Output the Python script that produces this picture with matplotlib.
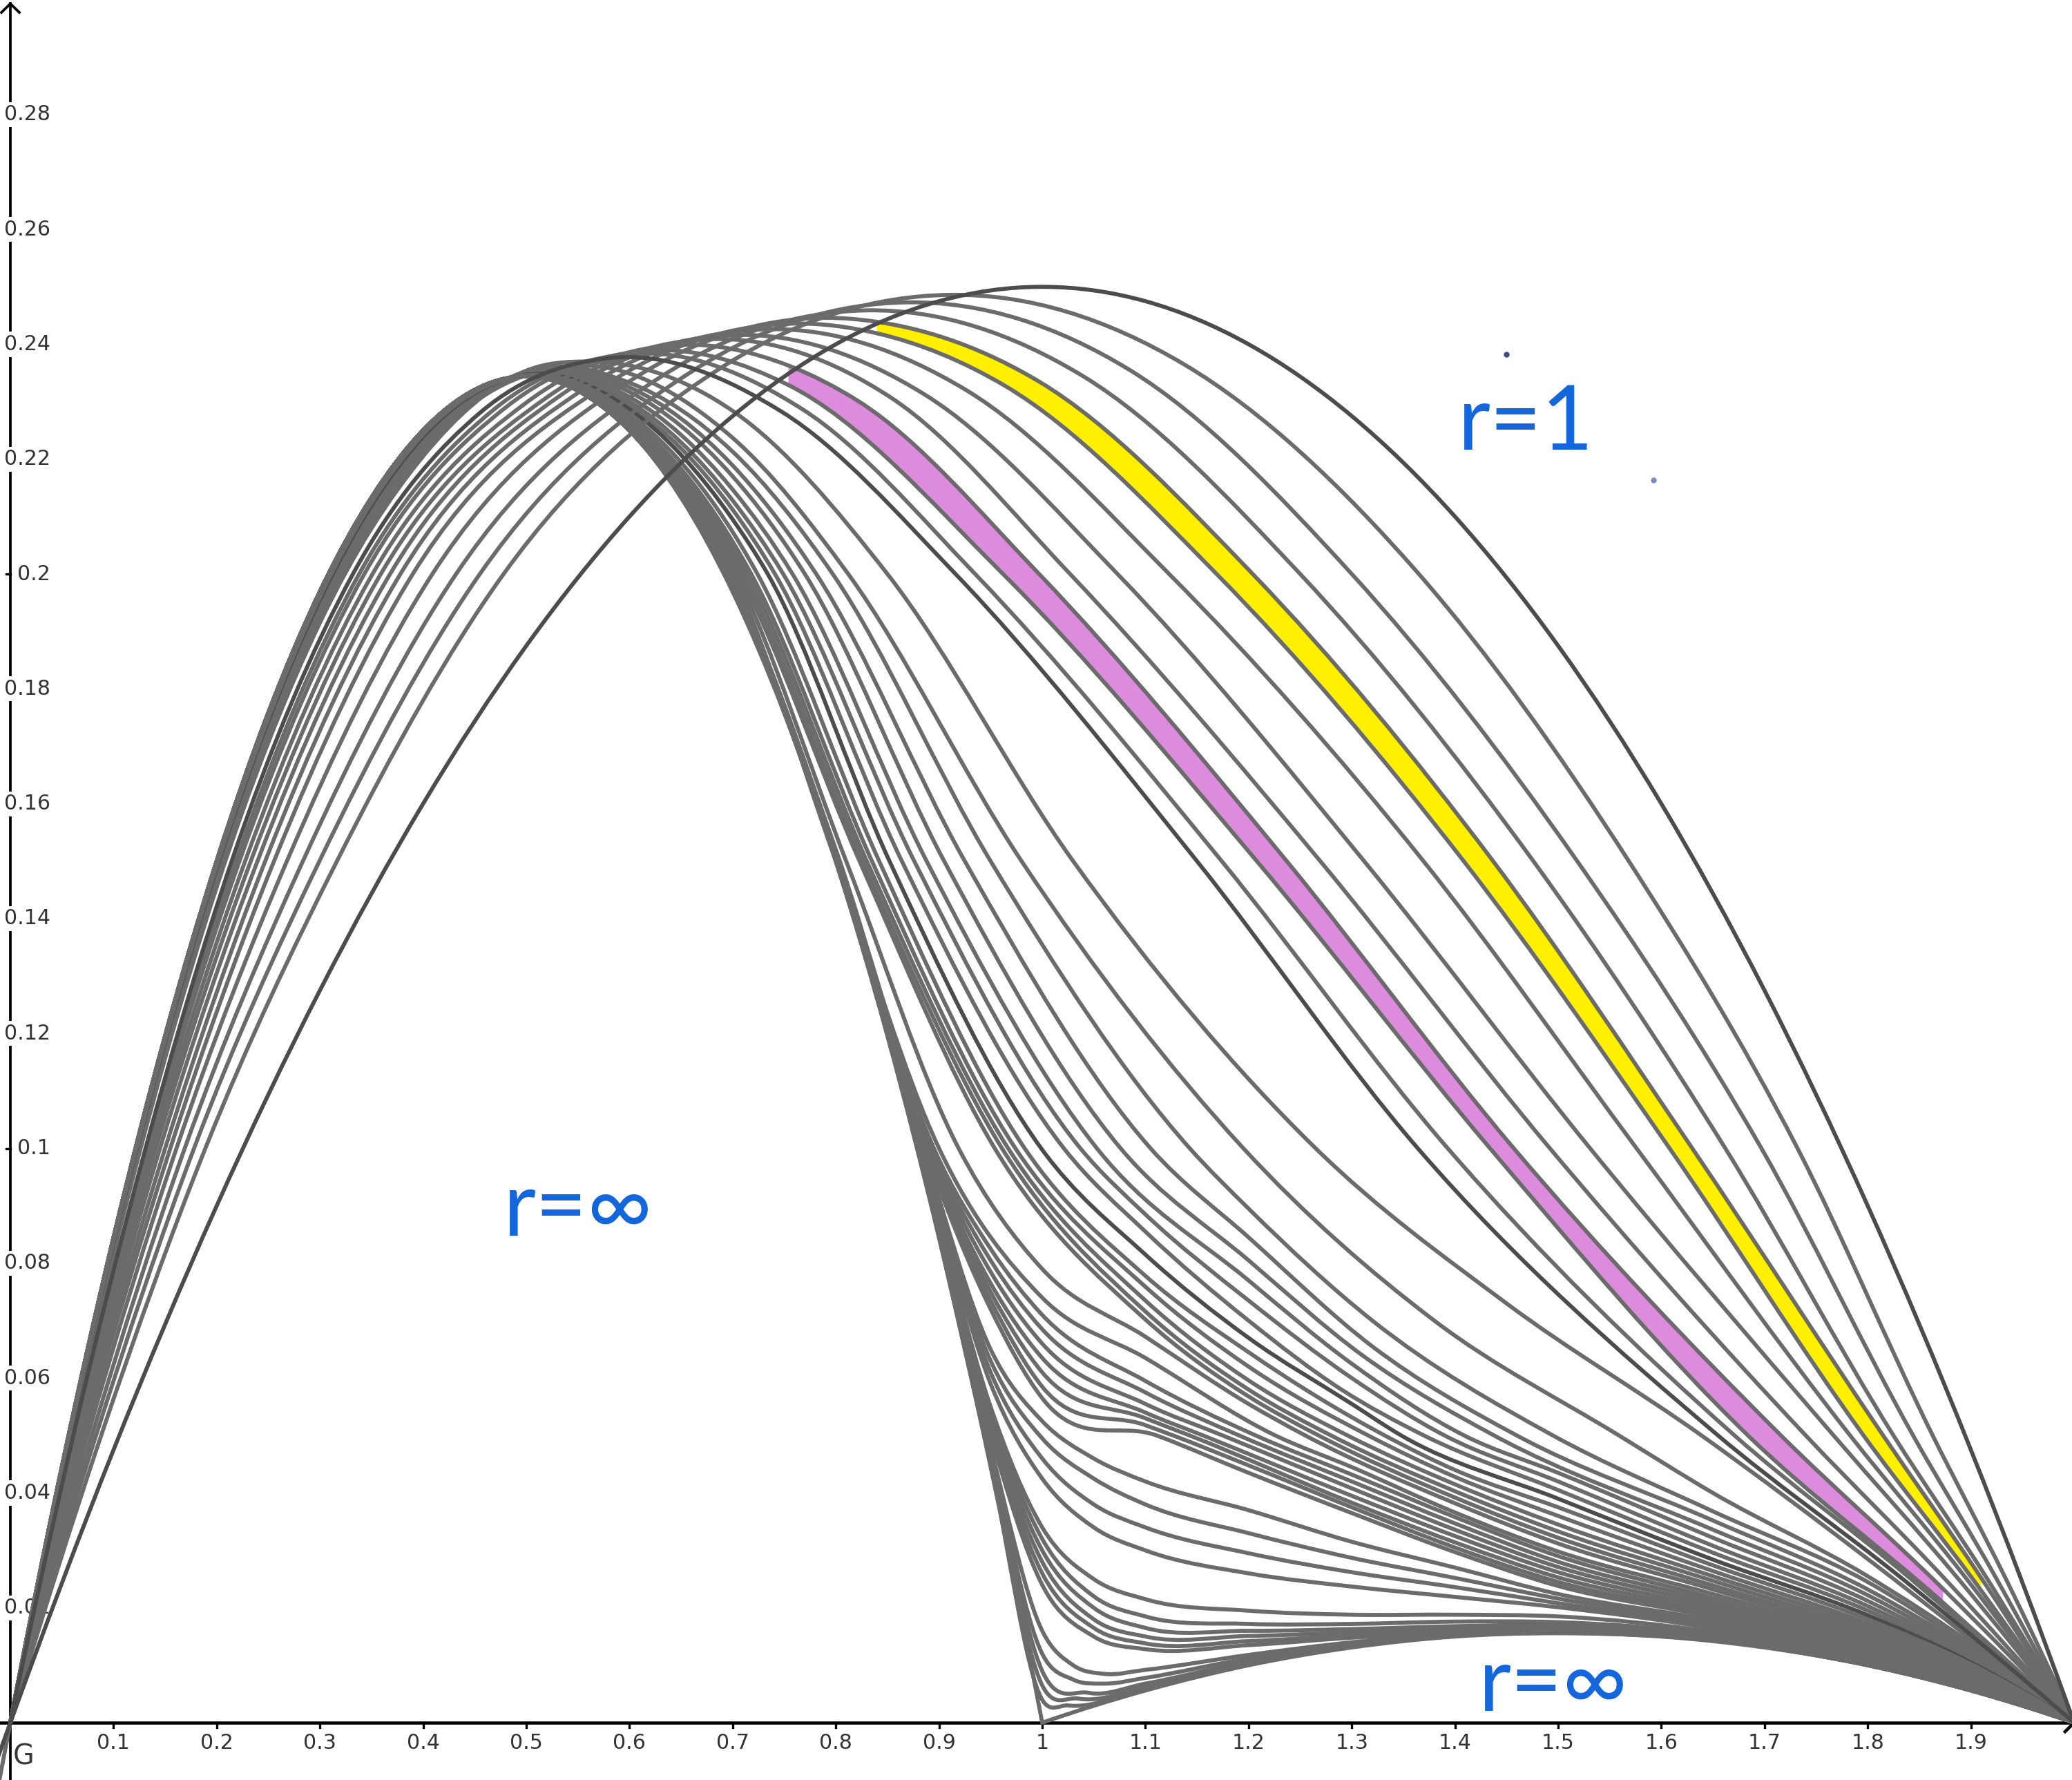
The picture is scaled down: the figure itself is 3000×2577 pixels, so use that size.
import numpy as np
import matplotlib
matplotlib.use("Agg")
import matplotlib.pyplot as plt
from matplotlib.path import Path
from matplotlib.patches import PathPatch

# ---------------- values ----------------
# each curve is a list of (x, y) points read along it

R1_CURVE = [(-0.012, -0.006), (0, 0), (0.1, 0.0475), (0.2, 0.09), (0.3, 0.1275), (0.4, 0.16), (0.5, 0.1875),
            (0.6, 0.21), (0.7, 0.2275), (0.8, 0.24), (0.9, 0.2475), (1.0, 0.25), (1.1, 0.2475), (1.2, 0.24),
            (1.3, 0.2275), (1.4, 0.21), (1.5, 0.1875), (1.6, 0.16), (1.7, 0.1275), (1.8, 0.09), (1.9, 0.0475), (2, 0)]

INF_LEFT = [(-0.012, -0.0113), (0, 0), (0.1, 0.0844), (0.2, 0.15), (0.3, 0.1969), (0.4, 0.225), (0.5, 0.2344),
            (0.6, 0.225), (0.7, 0.1969), (0.8, 0.15), (0.9, 0.0844), (1.0, 0)]
INF_RIGHT = [(1.0, 0), (1.1, 0.0056), (1.2, 0.01), (1.3, 0.0131), (1.4, 0.015), (1.5, 0.0156), (1.6, 0.015),
             (1.7, 0.0131), (1.8, 0.01), (1.9, 0.0056), (2, 0)]

# curves next to r=1, peaks moving left
OUTER_FAN = [
    [(0, 0), (0.088, 0.05), (0.189, 0.1), (0.3165, 0.15), (0.478, 0.2), (0.694, 0.2365), (0.91, 0.2486), (1.1375, 0.2365), (1.365, 0.2), (1.5685, 0.15), (1.732, 0.1), (1.863, 0.05), (1.934, 0.025), (2, 0)],
    [(0, 0), (0.083, 0.05), (0.178, 0.1), (0.2995, 0.15), (0.455, 0.2), (0.6625, 0.2355), (0.87, 0.2473), (1.085, 0.2355), (1.3, 0.2), (1.5185, 0.15), (1.697, 0.1), (1.844, 0.05), (1.925, 0.025), (2, 0)],
    [(0, 0), (0.079, 0.05), (0.169, 0.1), (0.2835, 0.15), (0.432, 0.2), (0.631, 0.2344), (0.83, 0.2459), (1.04, 0.2344), (1.25, 0.2), (1.476, 0.15), (1.662, 0.1), (1.825, 0.05), (1.916, 0.025), (2, 0)],
    [(0, 0), (0.075, 0.05), (0.161, 0.1), (0.268, 0.15), (0.409, 0.2), (0.5995, 0.2335), (0.79, 0.2446), (0.84, 0.2439), (0.997, 0.2335), (1.204, 0.2), (1.437, 0.15), (1.63, 0.1), (1.815, 0.05), (1.91, 0.0252), (2, 0)],
    [(0, 0), (0.072, 0.05), (0.155, 0.1), (0.2555, 0.15), (0.39, 0.2), (0.575, 0.2327), (0.76, 0.2436), (0.84, 0.2419), (0.9645, 0.2327), (1.169, 0.2), (1.4085, 0.15), (1.608, 0.1), (1.796, 0.05), (1.91, 0.023), (2, 0)],
    [(0, 0), (0.07, 0.05), (0.15, 0.1), (0.247, 0.15), (0.378, 0.2), (0.554, 0.232), (0.73, 0.2426), (0.9265, 0.232), (1.123, 0.2), (1.3695, 0.15), (1.576, 0.1), (1.783, 0.05), (1.896, 0.025), (2, 0)],
    [(0, 0), (0.068, 0.05), (0.145, 0.1), (0.2395, 0.15), (0.368, 0.2), (0.534, 0.2312), (0.7, 0.2416), (0.8865, 0.2312), (1.073, 0.2), (1.312, 0.15), (1.531, 0.1), (1.767, 0.05), (1.888, 0.025), (2, 0)],
    [(0, 0), (0.066, 0.05), (0.141, 0.1), (0.233, 0.15), (0.359, 0.2), (0.5195, 0.2307), (0.68, 0.2409), (0.8535, 0.2307), (1.027, 0.2), (1.2695, 0.15), (1.492, 0.1), (1.74, 0.05), (1.875, 0.025), (2, 0)],
    [(0, 0), (0.064, 0.05), (0.138, 0.1), (0.2275, 0.15), (0.351, 0.2), (0.5005, 0.2299), (0.65, 0.2399), (0.754, 0.2363), (0.8235, 0.2299), (0.997, 0.2), (1.237, 0.15), (1.457, 0.1), (1.716, 0.05), (1.873, 0.0233), (2, 0)],
    [(0, 0), (0.063, 0.05), (0.135, 0.1), (0.222, 0.15), (0.343, 0.2), (0.4815, 0.2292), (0.62, 0.2389), (0.754, 0.2329), (0.962, 0.2), (1.208, 0.15), (1.434, 0.1), (1.684, 0.05), (1.873, 0.0209), (2, 0)],
    [(0, 0), (0.062, 0.05), (0.133, 0.1), (0.2185, 0.15), (0.338, 0.2), (0.469, 0.2287), (0.6, 0.2383), (0.7675, 0.2287), (0.935, 0.2), (1.174, 0.15), (1.393, 0.1), (1.671, 0.05), (1.842, 0.025), (2, 0)],
    [(0, 0), (0.061, 0.05), (0.131, 0.1), (0.2145, 0.15), (0.332, 0.2), (0.456, 0.2282), (0.58, 0.2376), (0.748, 0.2282), (0.916, 0.2), (1.15, 0.15), (1.364, 0.1), (1.655, 0.05), (1.834, 0.025), (2, 0)],
]

# curves peaking near x=0.5 that bend into a long tail
MIDDLE_FAN = [
    [(0, 0), (0.1, 0.0815), (0.2, 0.1455), (0.3, 0.1915), (0.4, 0.2205), (0.5, 0.2354), (0.56, 0.237), (0.7, 0.2284), (0.85, 0.2), (1.03, 0.15), (1.265, 0.1), (1.45, 0.073), (1.639, 0.05), (1.8, 0.0285), (1.9, 0.0145), (2, 0)],
    [(0, 0), (0.1, 0.082), (0.2, 0.1463), (0.3, 0.1925), (0.4, 0.2215), (0.54, 0.2362), (0.7, 0.2237), (0.812, 0.2), (0.98, 0.15), (1.195, 0.1), (1.38, 0.07), (1.559, 0.05), (1.65, 0.04), (1.8, 0.0255), (1.9, 0.0138), (2, 0)],
    [(0, 0), (0.1, 0.0822), (0.2, 0.1466), (0.3, 0.1929), (0.4, 0.2218), (0.5, 0.2353), (0.6, 0.2333), (0.7, 0.2213), (0.797, 0.2), (0.95, 0.15), (1.143, 0.1), (1.2, 0.0895), (1.32, 0.07), (1.495, 0.05), (1.65, 0.0368), (1.8, 0.0245), (1.9, 0.0131), (2, 0)],
    [(0, 0), (0.1, 0.0825), (0.2, 0.147), (0.3, 0.1933), (0.4, 0.2222), (0.5, 0.2351), (0.6, 0.2325), (0.7, 0.2189), (0.781, 0.2), (0.925, 0.15), (1.105, 0.1), (1.2, 0.0845), (1.32, 0.0655), (1.46, 0.05), (1.65, 0.0352), (1.8, 0.0232), (1.9, 0.0126), (2, 0)],
    [(0, 0), (0.1, 0.0827), (0.2, 0.1473), (0.3, 0.1937), (0.4, 0.2225), (0.5, 0.2351), (0.6, 0.2317), (0.7, 0.217), (0.77, 0.2), (0.905, 0.15), (1.076, 0.1), (1.2, 0.0805), (1.31, 0.064), (1.438, 0.05), (1.65, 0.0336), (1.8, 0.0222), (1.9, 0.0121), (2, 0)],
    [(0, 0), (0.1, 0.0829), (0.2, 0.1477), (0.3, 0.1941), (0.4, 0.2229), (0.5, 0.235), (0.6, 0.2308), (0.7, 0.2147), (0.758, 0.2), (0.888, 0.15), (1.053, 0.1), (1.2, 0.077), (1.3, 0.0625), (1.409, 0.05), (1.5, 0.0435), (1.65, 0.0322), (1.8, 0.0212), (1.9, 0.0117), (2, 0)],
    [(0, 0), (0.1, 0.0831), (0.2, 0.1481), (0.3, 0.1945), (0.4, 0.2232), (0.5, 0.2349), (0.6, 0.23), (0.7, 0.2128), (0.749, 0.2), (0.876, 0.15), (1.037, 0.1), (1.1, 0.0885), (1.2, 0.0735), (1.3, 0.06), (1.39, 0.05), (1.5, 0.042), (1.65, 0.0308), (1.8, 0.0203), (1.9, 0.0113), (2, 0)],
    [(0, 0), (0.1, 0.0834), (0.2, 0.1485), (0.3, 0.195), (0.4, 0.2235), (0.5, 0.2348), (0.6, 0.2293), (0.7, 0.2112), (0.741, 0.2), (0.864, 0.15), (1.021, 0.1), (1.1, 0.0855), (1.2, 0.07), (1.29, 0.058), (1.37, 0.05), (1.5, 0.0405), (1.65, 0.0296), (1.8, 0.0195), (1.9, 0.0109), (2, 0)],
    [(0, 0), (0.1, 0.0836), (0.2, 0.1488), (0.3, 0.1955), (0.4, 0.2239), (0.5, 0.2347), (0.6, 0.2287), (0.7, 0.2095), (0.734, 0.2), (0.852, 0.15), (0.999, 0.1), (1.1, 0.0815), (1.2, 0.067), (1.3, 0.0555), (1.348, 0.05), (1.5, 0.039), (1.65, 0.0284), (1.8, 0.0187), (1.9, 0.0105), (2, 0)],
    [(0, 0), (0.1, 0.0839), (0.2, 0.1492), (0.3, 0.196), (0.4, 0.2243), (0.5, 0.2346), (0.6, 0.2279), (0.724, 0.2), (0.842, 0.15), (0.983, 0.1), (1.1, 0.0778), (1.2, 0.0645), (1.332, 0.05), (1.4, 0.044), (1.5, 0.0375), (1.65, 0.0274), (1.8, 0.018), (1.9, 0.0102), (2, 0)],
    [(0, 0), (0.1, 0.084), (0.2, 0.1494), (0.3, 0.1962), (0.4, 0.2244), (0.5, 0.2345), (0.6, 0.2272), (0.718, 0.2), (0.835, 0.15), (0.974, 0.1), (1.1, 0.0759), (1.2, 0.062), (1.316, 0.05), (1.4, 0.0428), (1.5, 0.036), (1.65, 0.0264), (1.8, 0.0173), (1.9, 0.0099), (2, 0)],
    [(0, 0), (0.1, 0.0841), (0.2, 0.1496), (0.3, 0.1964), (0.4, 0.2246), (0.5, 0.2345), (0.6, 0.2268), (0.714, 0.2), (0.83, 0.15), (0.967, 0.1), (1.1, 0.0735), (1.2, 0.0596), (1.296, 0.05), (1.4, 0.0415), (1.5, 0.0345), (1.65, 0.0255), (1.8, 0.0167), (1.9, 0.0096), (2, 0)],
    [(0, 0), (0.1, 0.0842), (0.2, 0.1498), (0.3, 0.1966), (0.4, 0.2248), (0.5, 0.2345), (0.6, 0.2265), (0.71, 0.2), (0.826, 0.15), (0.961, 0.1), (1.1, 0.0716), (1.2, 0.058), (1.28, 0.05), (1.4, 0.0403), (1.5, 0.0333), (1.65, 0.0247), (1.8, 0.0161), (1.9, 0.0093), (2, 0)],
    [(0, 0), (0.1, 0.0843), (0.2, 0.1499), (0.3, 0.1968), (0.4, 0.2249), (0.5, 0.2345), (0.6, 0.2262), (0.706, 0.2), (0.823, 0.15), (0.954, 0.1), (1.1, 0.0702), (1.2, 0.0568), (1.268, 0.05), (1.4, 0.0392), (1.5, 0.0322), (1.65, 0.0239), (1.8, 0.0156), (1.9, 0.0091), (2, 0)],
    [(0, 0), (0.1, 0.0844), (0.2, 0.15), (0.3, 0.1969), (0.4, 0.225), (0.5, 0.2345), (0.6, 0.2259), (0.703, 0.2), (0.81, 0.15), (0.919, 0.1), (1.0, 0.079), (1.1, 0.0672), (1.2, 0.0555), (1.255, 0.05), (1.4, 0.0382), (1.5, 0.0312), (1.65, 0.0232), (1.8, 0.0151), (1.9, 0.0088), (2, 0)],
    [(0, 0), (0.1, 0.0844), (0.2, 0.15), (0.3, 0.1969), (0.4, 0.225), (0.5, 0.2345), (0.6, 0.2256), (0.7, 0.2), (0.8, 0.15), (0.9, 0.1), (1.0, 0.074), (1.1, 0.0635), (1.226, 0.05), (1.3, 0.0445), (1.4, 0.0366), (1.5, 0.0298), (1.65, 0.0224), (1.8, 0.0146), (1.9, 0.0086), (2, 0)],
]

# curves that follow r=inf up to the peak, then knee and shoulder near x=1
CLUSTER_LEFT = [(0, 0), (0.1, 0.0844), (0.2, 0.15), (0.3, 0.1969), (0.4, 0.225), (0.5, 0.2344), (0.6, 0.225)]
SHOULDER_FAN = [
    [(0.697, 0.2), (0.8, 0.152), (0.895, 0.1), (0.95, 0.0825), (1.0, 0.071), (1.1, 0.0595), (1.207, 0.05), (1.3, 0.0432), (1.4, 0.0358), (1.5, 0.029), (1.65, 0.0217), (1.8, 0.0141), (1.9, 0.0083), (2, 0)],
    [(0.697, 0.2), (0.8, 0.1518), (0.893, 0.1), (0.95, 0.0805), (1.0, 0.0685), (1.1, 0.0575), (1.191, 0.05), (1.3, 0.042), (1.4, 0.0347), (1.5, 0.028), (1.65, 0.0211), (1.8, 0.0137), (1.9, 0.0081), (2, 0)],
    [(0.696, 0.2), (0.8, 0.1515), (0.891, 0.1), (0.95, 0.0785), (1.0, 0.066), (1.1, 0.0555), (1.175, 0.05), (1.3, 0.0408), (1.4, 0.0336), (1.5, 0.0271), (1.65, 0.0205), (1.8, 0.0133), (1.9, 0.0079), (2, 0)],
    [(0.696, 0.2), (0.8, 0.1512), (0.889, 0.1), (0.95, 0.0765), (1.0, 0.0635), (1.1, 0.054), (1.156, 0.05), (1.3, 0.0395), (1.4, 0.0325), (1.5, 0.0262), (1.65, 0.0199), (1.8, 0.0129), (1.9, 0.0077), (2, 0)],
    [(0.695, 0.2), (0.8, 0.151), (0.888, 0.1), (0.95, 0.075), (1.0, 0.061), (1.1, 0.053), (1.143, 0.05), (1.3, 0.0383), (1.4, 0.0314), (1.5, 0.0253), (1.65, 0.0194), (1.8, 0.0126), (1.9, 0.0075), (2, 0)],
    [(0.695, 0.2), (0.8, 0.1508), (0.887, 0.1), (0.95, 0.0735), (1.0, 0.0585), (1.1, 0.0518), (1.127, 0.05), (1.2, 0.0448), (1.3, 0.0375), (1.4, 0.0305), (1.5, 0.0245), (1.65, 0.0189), (1.8, 0.0123), (1.9, 0.0073), (2, 0)],
    [(0.695, 0.2), (0.8, 0.1506), (0.886, 0.1), (0.95, 0.072), (1.0, 0.0565), (1.111, 0.05), (1.2, 0.0435), (1.3, 0.0365), (1.4, 0.0297), (1.5, 0.0238), (1.65, 0.0184), (1.8, 0.012), (1.9, 0.0071), (2, 0)],
    [(0.695, 0.2), (0.8, 0.1505), (0.885, 0.1), (0.95, 0.065), (1.0, 0.0525), (1.05, 0.046), (1.1, 0.042), (1.2, 0.037), (1.3, 0.0315), (1.4, 0.027), (1.5, 0.0224), (1.65, 0.0178), (1.8, 0.0117), (1.9, 0.0069), (2, 0)],
    [(0.694, 0.2), (0.8, 0.1504), (0.884, 0.1), (0.95, 0.063), (1.0, 0.0495), (1.05, 0.0425), (1.1, 0.038), (1.2, 0.033), (1.3, 0.0287), (1.4, 0.0252), (1.5, 0.0216), (1.65, 0.0173), (1.8, 0.0114), (1.9, 0.0067), (2, 0)],
    [(0.694, 0.2), (0.8, 0.1503), (0.884, 0.1), (0.95, 0.061), (1.0, 0.046), (1.05, 0.038), (1.1, 0.034), (1.2, 0.0295), (1.3, 0.0262), (1.4, 0.0236), (1.5, 0.0208), (1.65, 0.0168), (1.8, 0.0111), (1.9, 0.0065), (2, 0)],
    [(0.694, 0.2), (0.8, 0.1502), (0.883, 0.1), (0.95, 0.059), (1.0, 0.0425), (1.05, 0.034), (1.1, 0.03), (1.2, 0.026), (1.3, 0.0237), (1.4, 0.0219), (1.5, 0.0201), (1.65, 0.0164), (1.8, 0.0109), (1.9, 0.0064), (2, 0)],
    [(0.694, 0.2), (0.8, 0.1502), (0.882, 0.1), (0.95, 0.055), (1.0, 0.034), (1.05, 0.025), (1.1, 0.0215), (1.2, 0.0195), (1.3, 0.0188), (1.4, 0.0188), (1.5, 0.0185), (1.65, 0.0158), (1.8, 0.0107), (1.9, 0.0062), (2, 0)],
    [(0.694, 0.2), (0.8, 0.1502), (0.882, 0.1), (0.95, 0.054), (1.0, 0.032), (1.05, 0.022), (1.1, 0.0185), (1.2, 0.0172), (1.3, 0.0172), (1.4, 0.0176), (1.5, 0.0175), (1.65, 0.0154), (1.8, 0.0105), (1.9, 0.0061), (2, 0)],
    [(0.694, 0.2), (0.8, 0.1501), (0.881, 0.1), (0.95, 0.053), (1.0, 0.03), (1.05, 0.02), (1.1, 0.0165), (1.2, 0.016), (1.3, 0.0163), (1.4, 0.0168), (1.5, 0.017), (1.65, 0.0151), (1.8, 0.0104), (1.9, 0.006), (2, 0)],
    [(0.694, 0.2), (0.8, 0.1501), (0.881, 0.1), (0.95, 0.052), (1.0, 0.028), (1.05, 0.018), (1.1, 0.015), (1.2, 0.0151), (1.3, 0.0157), (1.4, 0.0163), (1.5, 0.0166), (1.65, 0.0149), (1.8, 0.0103), (1.9, 0.0059), (2, 0)],
    [(0.694, 0.2), (0.8, 0.1501), (0.881, 0.1), (0.95, 0.051), (1.0, 0.026), (1.05, 0.0165), (1.1, 0.0138), (1.2, 0.0142), (1.3, 0.0152), (1.4, 0.016), (1.5, 0.0162), (1.65, 0.0147), (1.8, 0.0102), (1.9, 0.0058), (2, 0)],
    [(0.694, 0.2), (0.8, 0.1501), (0.881, 0.1), (0.95, 0.05), (1.0, 0.024), (1.05, 0.015), (1.1, 0.0128), (1.2, 0.0135), (1.3, 0.0148), (1.4, 0.0157), (1.5, 0.016), (1.65, 0.0146), (1.8, 0.0102), (1.9, 0.0058), (2, 0)],
    [(0.693, 0.2), (0.8, 0.1501), (0.88, 0.1), (0.9, 0.086), (0.95, 0.048), (1.0, 0.016), (1.03, 0.01), (1.06, 0.0085), (1.1, 0.0092), (1.2, 0.0118), (1.3, 0.014), (1.4, 0.0155), (1.5, 0.0159), (1.65, 0.0145), (1.8, 0.0101), (1.9, 0.0057), (2, 0)],
    [(0.693, 0.2), (0.8, 0.1501), (0.88, 0.1), (0.9, 0.0855), (0.95, 0.047), (1.0, 0.012), (1.03, 0.0075), (1.06, 0.0068), (1.1, 0.0078), (1.2, 0.0112), (1.3, 0.0137), (1.4, 0.0153), (1.5, 0.0158), (1.65, 0.0144), (1.8, 0.0101), (1.9, 0.0057), (2, 0)],
    [(0.693, 0.2), (0.8, 0.1501), (0.88, 0.1), (0.9, 0.085), (0.95, 0.046), (1.0, 0.009), (1.045, 0.0052), (1.1, 0.0068), (1.2, 0.0107), (1.3, 0.0135), (1.4, 0.0152), (1.5, 0.0157), (1.65, 0.0144), (1.8, 0.0101), (1.9, 0.0057), (2, 0)],
    [(0.693, 0.2), (0.8, 0.15), (0.88, 0.1), (0.9, 0.0848), (0.95, 0.0455), (1.0, 0.0065), (1.035, 0.0042), (1.1, 0.0062), (1.2, 0.0104), (1.3, 0.0133), (1.4, 0.0151), (1.5, 0.0157), (1.65, 0.0143), (1.8, 0.01), (1.9, 0.0056), (2, 0)],
    [(0.693, 0.2), (0.8, 0.15), (0.88, 0.1), (0.9, 0.0846), (0.95, 0.045), (1.0, 0.004), (1.025, 0.003), (1.1, 0.0059), (1.2, 0.0102), (1.3, 0.0132), (1.4, 0.0151), (1.5, 0.0156), (1.65, 0.0143), (1.8, 0.01), (1.9, 0.0056), (2, 0)],
]

DARK_OUTER = [11]      # darker drawn curve in OUTER_FAN
DARK_MIDDLE = [8]      # darker drawn curve in MIDDLE_FAN

# highlighted strips: (upper curve, lower curve in OUTER_FAN, x start, x end)
YELLOW_BAND = (3, 4, 0.84, 1.91)
PINK_BAND = (8, 9, 0.754, 1.873)

X_TICKS = [0.1, 0.2, 0.3, 0.4, 0.5, 0.6, 0.7, 0.8, 0.9, 1.0, 1.1, 1.2, 1.3, 1.4, 1.5, 1.6, 1.7, 1.8, 1.9]
X_LABELS = ["0.1", "0.2", "0.3", "0.4", "0.5", "0.6", "0.7", "0.8", "0.9", "1",
            "1.1", "1.2", "1.3", "1.4", "1.5", "1.6", "1.7", "1.8", "1.9"]
Y_TICKS = [0.02, 0.04, 0.06, 0.08, 0.1, 0.12, 0.14, 0.16, 0.18, 0.2, 0.22, 0.24, 0.26, 0.28]
Y_LABELS = ["0.02", "0.04", "0.06", "0.08", "0.1", "0.12", "0.14", "0.16", "0.18", "0.2",
            "0.22", "0.24", "0.26", "0.28"]

LABEL_R1 = ("r=1", 1.4685, 0.2216)
LABEL_INF_MID = ("r=\u221e", 0.5502, 0.0848)
LABEL_INF_LOW = ("r=\u221e", 1.4953, 0.0020)
BLUE_DOTS = [(1.4498, 0.2383, "#3c4c86"), (1.5922, 0.2164, "#7d8cc0")]

GRAY = "#6b6b6b"
DARK = "#4c4c4c"
BLUE = "#1466dc"
YELLOW = "#fff000"
PINK = "#dd8cdd"


# ---------------- smooth path through the read points ----------------
def slopes(x, y):
    # tangent of the parabola through each point and its two neighbours
    h = np.diff(x)
    d = np.diff(y) / h
    m = np.empty(len(x))
    m[1:-1] = (h[1:] * d[:-1] + h[:-1] * d[1:]) / (h[:-1] + h[1:])
    m[0] = d[0] + (d[0] - d[1]) * h[0] / (h[0] + h[1])
    m[-1] = d[-1] + (d[-1] - d[-2]) * h[-1] / (h[-1] + h[-2])
    return m


def pieces(x, y, m, i0, i1):
    out = []
    for k in range(i0, i1):
        hk = x[k + 1] - x[k]
        out += [(x[k] + hk / 3, y[k] + m[k] * hk / 3),
                (x[k + 1] - hk / 3, y[k + 1] - m[k + 1] * hk / 3),
                (x[k + 1], y[k + 1])]
    return out


def pieces_back(x, y, m, i0, i1):
    out = []
    for k in range(i1, i0, -1):
        hk = x[k] - x[k - 1]
        out += [(x[k] - hk / 3, y[k] - m[k] * hk / 3),
                (x[k - 1] + hk / 3, y[k - 1] + m[k - 1] * hk / 3),
                (x[k - 1], y[k - 1])]
    return out


def curve_path(pts):
    x, y = np.array(pts, dtype=float).T
    m = slopes(x, y)
    verts = [(x[0], y[0])] + pieces(x, y, m, 0, len(x) - 1)
    codes = [Path.MOVETO] + [Path.CURVE4] * (len(verts) - 1)
    return Path(verts, codes)


def band_path(upper, lower, x0, x1):
    xu, yu = np.array(upper, dtype=float).T
    xl, yl = np.array(lower, dtype=float).T
    mu, ml = slopes(xu, yu), slopes(xl, yl)
    a, b = int(np.argmin(abs(xu - x0))), int(np.argmin(abs(xu - x1)))
    c, d = int(np.argmin(abs(xl - x0))), int(np.argmin(abs(xl - x1)))
    verts = [(xu[a], yu[a])] + pieces(xu, yu, mu, a, b)
    codes = [Path.MOVETO] + [Path.CURVE4] * (3 * (b - a))
    verts.append((xl[d], yl[d]))
    codes.append(Path.LINETO)
    back = pieces_back(xl, yl, ml, c, d)
    verts += back
    codes += [Path.CURVE4] * len(back)
    verts.append((xu[a], yu[a]))
    codes.append(Path.CLOSEPOLY)
    return Path(verts, codes)


def draw(ax, pts, color=GRAY, lw=1.4, z=3):
    ax.add_patch(PathPatch(curve_path(pts), facecolor="none", edgecolor=color,
                           lw=lw, zorder=z, joinstyle="round", capstyle="round"))


# ---------------- figure ----------------
fig = plt.figure(figsize=(10, 8.59), dpi=300)
ax = fig.add_axes([0, 0, 1, 1])
ax.set_xlim(-0.01004, 1.99799)
ax.set_ylim(-0.00998, 0.29994)
ax.axis("off")

# axes in GeoGebra style
ax.plot([0, 0], [-0.02, 0.2993], color="black", lw=0.9, zorder=1)
ax.plot([-0.0087, 0, 0.0087], [0.29777, 0.29929, 0.29777], color="black", lw=0.9, zorder=1)
ax.plot([-0.02, 2.0], [0, 0], color="black", lw=1.1, zorder=1)
ax.plot([1.9913, 2.0, 1.9913], [0.00156, 0, -0.00156], color="black", lw=1.1, zorder=1)

for xt, lab in zip(X_TICKS, X_LABELS):
    ax.plot([xt, xt], [0, -0.00085], color="black", lw=0.8, zorder=1)
    ax.text(xt, -0.0035, lab, ha="center", va="center", fontsize=7.2,
            color="#333333", family="DejaVu Sans", zorder=1)
for yt, lab in zip(Y_TICKS, Y_LABELS):
    ax.plot([-0.004, 0], [yt, yt], color="black", lw=0.8, zorder=1)
    ax.text(0.0385, yt, lab, ha="right", va="center", fontsize=7.2, color="#333333",
            family="DejaVu Sans", zorder=1.5,
            bbox=dict(boxstyle="square,pad=0.12", facecolor="white", edgecolor="none"))
ax.text(0.0127, -0.0059, "G", ha="center", va="center", fontsize=9.5, color="#383838",
        family="DejaVu Sans", zorder=1.5)

# highlighted strips under the lines
for band, col in ((YELLOW_BAND, YELLOW), (PINK_BAND, PINK)):
    up, lo, x0, x1 = band
    ax.add_patch(PathPatch(band_path(OUTER_FAN[up], OUTER_FAN[lo], x0, x1),
                           facecolor=col, edgecolor="none", zorder=2))

# the family of curves
draw(ax, INF_LEFT)
draw(ax, INF_RIGHT)
for right in SHOULDER_FAN:
    draw(ax, CLUSTER_LEFT + right)
for i, pts in enumerate(MIDDLE_FAN):
    draw(ax, pts, DARK if i in DARK_MIDDLE else GRAY)
for i, pts in enumerate(OUTER_FAN):
    draw(ax, pts, DARK if i in DARK_OUTER else GRAY)
draw(ax, R1_CURVE, DARK, z=4)

# labels
for txt, tx, ty in (LABEL_R1, LABEL_INF_MID, LABEL_INF_LOW):
    ax.text(tx, ty, txt, ha="center", va="baseline", fontsize=31, color=BLUE,
            family=["Lato", "DejaVu Sans"], zorder=5)
for dx, dy, dc in BLUE_DOTS:
    ax.plot(dx, dy, "o", ms=2.0, color=dc, mec="none", zorder=5)

fig.savefig("out.png", dpi=300)
